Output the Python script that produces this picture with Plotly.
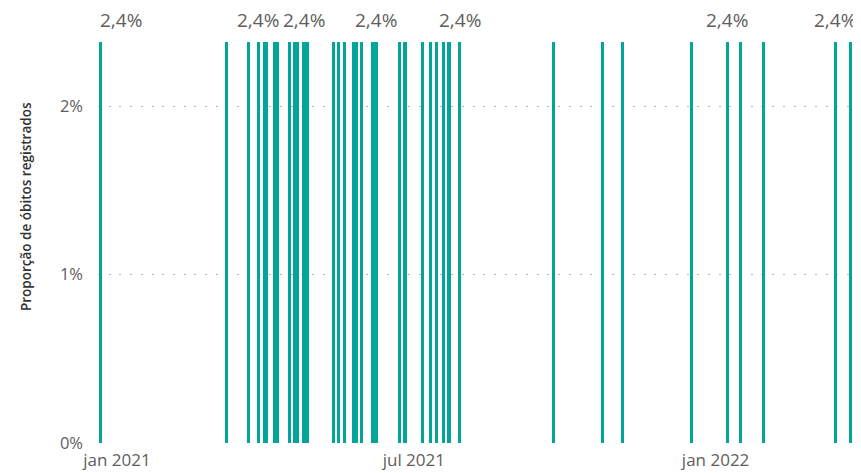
import plotly.graph_objects as go

# ---- data ----
dates = [
    "2020-12-22",
    "2021-03-09", "2021-03-22", "2021-03-28",
    "2021-04-01", "2021-04-02",
    "2021-04-07", "2021-04-08", "2021-04-09",
    "2021-04-16", "2021-04-19", "2021-04-21",
    "2021-04-25", "2021-04-26", "2021-04-27",
    "2021-05-13", "2021-05-16", "2021-05-20",
    "2021-05-25", "2021-05-27", "2021-05-30",
    "2021-06-06", "2021-06-07", "2021-06-08",
    "2021-06-22", "2021-06-25", "2021-06-26",
    "2021-07-06", "2021-07-11", "2021-07-15", "2021-07-19",
    "2021-07-22", "2021-07-23", "2021-07-29",
    "2021-09-24", "2021-10-24", "2021-11-05", "2021-12-17",
    "2022-01-08", "2022-01-16", "2022-01-30",
    "2022-03-15", "2022-03-24", "2022-03-29",
]
values = [0.0238] * len(dates)

labeled_dates = ["2020-12-22", "2021-03-28", "2021-04-25", "2021-06-08",
                 "2021-07-29", "2022-01-08", "2022-03-15"]

tick_dates = ["2021-01-01", "2021-07-01", "2022-01-01"]
tick_labels = ["jan 2021", "jul 2021", "jan 2022"]

y_ticks = [0, 0.01, 0.02]
y_tick_labels = ["0%", "1%", "2%"]

y_title = "Proporção de óbitos registrados"

# ---- style ----
BAR = "#01A699"
GREY = "#605E5C"
FONT = "Open Sans"
DAY_MS = 86400000

fig = go.Figure()
fig.add_trace(go.Bar(
    x=dates, y=values,
    width=[1.83 * DAY_MS] * len(dates),
    marker=dict(color=BAR, line=dict(width=0)),
    hoverinfo="x+y",
))

val_by_date = dict(zip(dates, values))

def fmt(v):
    return f"{v*100:.1f}%".replace(".", ",")

for i, d in enumerate(labeled_dates):
    anchor = "left" if i == 0 else "center"
    fig.add_annotation(
        x=d, y=val_by_date[d], xref="x", yref="y",
        text=fmt(val_by_date[d]), showarrow=False,
        xanchor=anchor, yanchor="bottom",
        xshift=-3 if i == 0 else 0, yshift=7,
        font=dict(family=FONT, size=19, color=GREY),
    )

fig.add_annotation(
    x=0, y=0.587, xref="paper", yref="paper",
    text=y_title, textangle=-90, showarrow=False,
    xanchor="center", yanchor="middle", xshift=-72,
    font=dict(family=FONT, size=13.5, color="#333333", weight=600),
)

# the page has an 8px body margin, so the figure is 8px smaller than the window
fig.update_layout(
    width=853, height=465,
    margin=dict(l=90, r=0, t=33, b=30),
    paper_bgcolor="white", plot_bgcolor="white",
    showlegend=False, bargap=0,
    font=dict(family=FONT, color=GREY),
)
fig.update_xaxes(
    type="date",
    range=["2020-12-20 09:50", "2022-03-30 15:50"],
    tickvals=tick_dates, ticktext=tick_labels,
    tickfont=dict(family=FONT, size=17, color=GREY),
    showgrid=False, zeroline=False, showline=False, ticks="",
    ticklabelstandoff=5,
)
fig.update_yaxes(
    range=[0, 0.02386],
    tickvals=y_ticks, ticktext=y_tick_labels,
    tickfont=dict(family=FONT, size=16.5, color=GREY),
    showgrid=True, gridcolor="#B8B6B4", gridwidth=1.3, griddash="2px,8.7px",
    zeroline=False, showline=False, ticks="", ticklabelstandoff=14,
)

fig.write_html("out.html")
